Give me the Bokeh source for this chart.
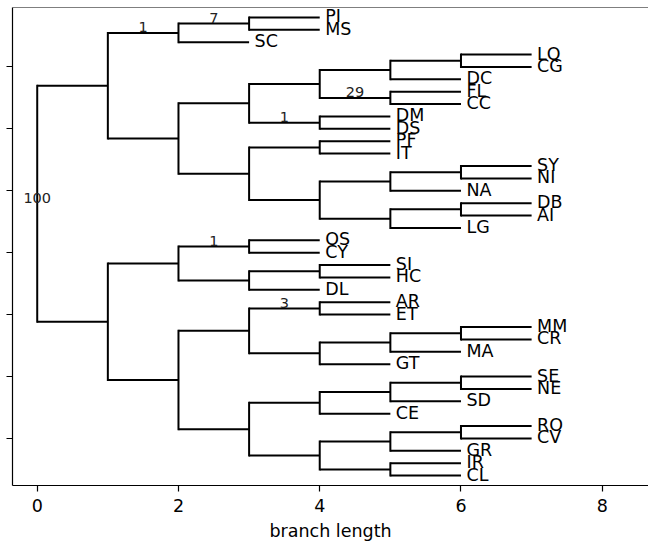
from bokeh.plotting import figure
from bokeh.models import ColumnDataSource, Range1d, FixedTicker, Span
from bokeh.core.properties import value
from bokeh.embed import file_html
from bokeh.resources import INLINE

# Tree topology in Newick form; numbers after ")" are branch support values.
NEWICK = (
    "((((PI,MS)7,SC)1,(((((LQ,CG),DC),(FL,CC)29),(DM,DS)1),"
    "((PF,IT),(((SY,NI),NA),((DB,AI),LG))))),"
    "(((OS,CY)1,((SI,HC),DL)),(((AR,ET)3,(((MM,CR),MA),GT)),"
    "((((SE,NE),SD),CE),(((RO,CV),GR),(IR,CL))))))100;"
)
BRANCH_LENGTH = 1.0          # every branch has unit length
X_TICKS = [0, 2, 4, 6, 8]
Y_TICKS = [5, 10, 15, 20, 25, 30, 35]
X_LABEL = "branch length"

FONT = "DejaVu Sans"
MAIN_SIZE = "17.5px"
SMALL_SIZE = "14.5px"


def parse_newick(s):
    pos = 0

    def node():
        nonlocal pos
        n = {"children": [], "name": "", "conf": ""}
        if s[pos] == "(":
            pos += 1
            n["children"].append(node())
            while s[pos] == ",":
                pos += 1
                n["children"].append(node())
            assert s[pos] == ")"
            pos += 1
        start = pos
        while s[pos] not in ",);":
            pos += 1
        tok = s[start:pos]
        if n["children"]:
            n["conf"] = tok
        else:
            n["name"] = tok
        return n

    return node()


root = parse_newick(NEWICK)

# x = distance from root, y = leaf order (parents centred on first/last child)
leaves = []


def place(n, x):
    n["x"] = x
    for c in n["children"]:
        place(c, x + BRANCH_LENGTH)
    if n["children"]:
        n["y"] = (n["children"][0]["y"] + n["children"][-1]["y"]) / 2.0
    else:
        leaves.append(n)
        n["y"] = float(len(leaves))


place(root, 0.0)

h = dict(x0=[], x1=[], y=[])
v = dict(x=[], y0=[], y1=[])
conf = dict(x=[], y=[], t=[])


def collect(n, px):
    if n["x"] != px:
        h["x0"].append(px)
        h["x1"].append(n["x"])
        h["y"].append(n["y"])
    if n["children"]:
        v["x"].append(n["x"])
        v["y0"].append(n["children"][0]["y"])
        v["y1"].append(n["children"][-1]["y"])
    if n["conf"]:
        conf["x"].append(0.5 * (px + n["x"]))
        conf["y"].append(n["y"])
        conf["t"].append(n["conf"])
    for c in n["children"]:
        collect(c, n["x"])


collect(root, root["x"])

leaf_src = ColumnDataSource(dict(
    x=[n["x"] for n in leaves],
    y=[n["y"] for n in leaves],
    t=[n["name"] for n in leaves],
))

p = figure(
    width=648, height=547,
    x_range=Range1d(-0.35, 8.655),
    y_range=Range1d(len(leaves) + 0.8, 0.2),
    output_backend="svg", toolbar_location=None,
    min_border_left=12, min_border_right=0,
    min_border_top=7, min_border_bottom=62,
)
p.outline_line_color = None
p.xgrid.visible = False
p.ygrid.visible = False
p.background_fill_color = "white"
p.border_fill_color = "white"

# top spine
p.add_layout(Span(location=0.2, dimension="width", line_color="black", line_width=1.2))

# branches
p.segment(x0="x0", x1="x1", y0="y", y1="y", source=ColumnDataSource(h),
          line_color="black", line_width=2)
p.segment(x0="x", x1="x", y0="y0", y1="y1", source=ColumnDataSource(v),
          line_color="black", line_width=2, line_cap="square")

# leaf names
p.text(x="x", y="y", text="t", source=leaf_src,
       text_font=value(FONT), text_font_size=MAIN_SIZE, text_color="black",
       text_align="left", text_baseline="middle", x_offset=5.5, y_offset=-1)

# support values sitting on top of their branches
p.text(x="x", y="y", text="t", source=ColumnDataSource(conf),
       text_font=value(FONT), text_font_size=SMALL_SIZE, text_color="#222222",
       text_align="center", text_baseline="middle", y_offset=-5.5)

xa = p.xaxis[0]
xa.ticker = FixedTicker(ticks=X_TICKS, minor_ticks=[])
xa.axis_label = X_LABEL
xa.axis_label_text_font = FONT
xa.axis_label_text_font_size = MAIN_SIZE
xa.axis_label_text_font_style = "normal"
xa.axis_label_text_color = "black"
xa.major_label_text_font = FONT
xa.major_label_text_font_size = MAIN_SIZE
xa.major_label_text_color = "black"
xa.major_tick_out = 6
xa.major_tick_in = 0
xa.minor_tick_out = 0
xa.minor_tick_in = 0
xa.major_label_standoff = 7
xa.axis_label_standoff = 6
xa.axis_line_width = 1.2
xa.axis_line_color = "black"
xa.major_tick_line_color = "black"
xa.major_tick_line_width = 1.2

ya = p.yaxis[0]
ya.ticker = FixedTicker(ticks=Y_TICKS, minor_ticks=[])
ya.major_label_overrides = {t: "" for t in Y_TICKS}
ya.major_label_standoff = 0
ya.major_tick_out = 6
ya.major_tick_in = 0
ya.minor_tick_out = 0
ya.minor_tick_in = 0
ya.axis_line_width = 1.2
ya.axis_line_color = "black"
ya.major_tick_line_color = "black"
ya.major_tick_line_width = 1.2

open("out.html", "w").write(file_html(p, INLINE))
